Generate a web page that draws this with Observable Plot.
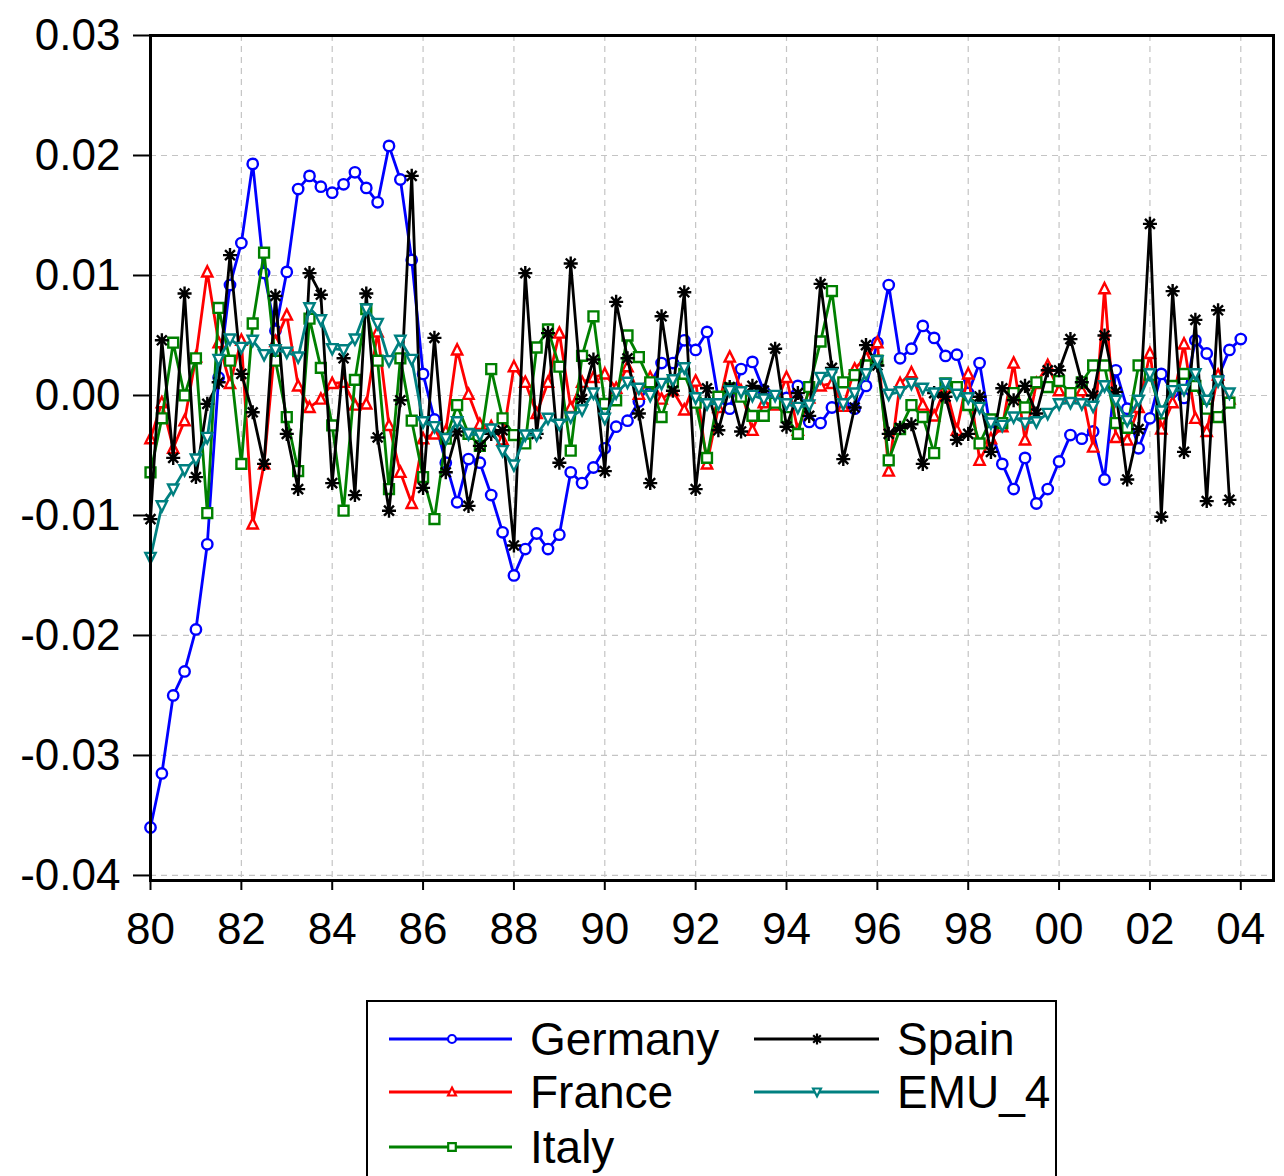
<!DOCTYPE html>
<html><head><meta charset="utf-8">
<script src="https://cdn.jsdelivr.net/npm/d3@7"></script>
<script src="https://cdn.jsdelivr.net/npm/@observablehq/plot@0.6"></script>
<style>
body{margin:0;background:#fff;font-family:"Liberation Sans",Arial,sans-serif;}
#chart{position:absolute;left:0;top:0;}
#legend{position:absolute;left:366px;top:1000px;width:687px;height:200px;border:2px solid #000;background:#fff;}
</style></head><body><div id="chart"></div><div id="legend"></div>
<script>
const startYear = 1980; // first quarter 1980Q1, quarterly observations
const germany = [-0.036,-0.0315,-0.025,-0.023,-0.0195,-0.0124,0.0015,0.0092,0.0127,0.0193,0.0102,0.0054,0.0103,0.0172,0.0183,0.0174,0.0169,0.0176,0.0186,0.0173,0.0161,0.0208,0.018,0.0113,0.0018,-0.002,-0.0056,-0.0089,-0.0053,-0.0056,-0.0083,-0.0114,-0.015,-0.0128,-0.0115,-0.0128,-0.0116,-0.0064,-0.0073,-0.006,-0.0044,-0.0026,-0.0021,-0.0005,0.001,0.0027,0.0027,0.0046,0.0038,0.0053,-0.0003,-0.0011,0.0022,0.0028,0.0004,-0.0004,-0.0002,0.0008,-0.0022,-0.0023,-0.001,-0.0008,-0.0011,0.0008,0.0044,0.0092,0.0031,0.0039,0.0058,0.0048,0.0033,0.0034,0.0002,0.0027,-0.003,-0.0057,-0.0078,-0.0052,-0.009,-0.0078,-0.0055,-0.0033,-0.0036,-0.003,-0.007,0.0021,-0.0011,-0.0044,-0.0019,0.0018,0.0003,-0.0002,0.0046,0.0035,0.0015,0.0038,0.0047];
const france = [-0.0036,-0.0006,-0.0044,-0.0021,0.0032,0.0103,0.0044,0.001,0.0046,-0.0107,-0.0057,0.0045,0.0067,0.0008,-0.001,-0.0003,0.001,0.0011,-0.0008,-0.0007,0.0053,-0.0025,-0.0064,-0.009,-0.0036,-0.0032,-0.003,0.0038,0.0001,-0.0024,-0.0026,-0.0037,0.0024,0.0011,-0.0015,0.0011,0.0052,-0.001,0.0011,0.0015,0.0018,0.0006,0.0024,0.0001,0.0015,-0.0003,0.0004,-0.0012,0.0012,-0.0057,-0.001,0.0032,0.0004,-0.0029,-0.0006,-0.0008,0.0015,-0.0029,-0.0002,0.0008,0.001,-0.0009,0.0022,0.0032,0.0044,-0.0063,0.001,0.0019,-0.0008,-0.0017,0.0007,-0.0029,0.0018,-0.0054,-0.0036,-0.0026,0.0027,-0.0037,0.001,0.0025,0.0004,-0.0002,0.0004,-0.0043,0.0089,-0.0035,-0.0037,-0.001,0.0035,-0.0028,-0.0006,0.0043,-0.0019,-0.003,0.0017,-0.0003];
const italy = [-0.0064,-0.0019,0.0044,0.0,0.0031,-0.0098,0.0073,0.0029,-0.0057,0.006,0.0119,0.0029,-0.0018,-0.0063,0.0064,0.0023,-0.0025,-0.0096,0.0013,0.0072,0.0029,-0.0078,0.0031,-0.0021,-0.0068,-0.0103,-0.0036,-0.0008,-0.0032,-0.0042,0.0022,-0.0019,-0.0033,-0.004,0.004,0.0055,0.0024,-0.0046,0.0033,0.0066,-0.0007,-0.0004,0.005,0.0032,0.0011,-0.0018,0.0011,0.0018,-0.0006,-0.0052,-0.0001,0.0006,-0.0001,-0.0017,-0.0017,-0.0006,-0.0018,-0.0032,0.0007,0.0045,0.0087,0.0011,0.0017,0.0025,0.0029,-0.0054,-0.0028,-0.0008,-0.0018,-0.0048,0.001,0.0007,-0.0008,-0.004,-0.002,-0.0023,0.0002,-0.001,0.0011,0.0007,0.0012,0.0002,0.0011,0.0025,0.0025,-0.0023,-0.0027,0.0025,0.0017,-0.0015,0.0008,0.0018,0.0008,-0.0011,-0.0018,-0.0006];
const spain = [-0.0103,0.0046,-0.0052,0.0085,-0.0068,-0.0007,0.0011,0.0117,0.0018,-0.0014,-0.0057,0.0083,-0.0032,-0.0078,0.0102,0.0084,-0.0073,0.0031,-0.0083,0.0085,-0.0035,-0.0096,-0.0004,0.0183,-0.0077,0.0048,-0.0064,-0.003,-0.0092,-0.0042,-0.0032,-0.0029,-0.0125,0.0102,-0.0032,0.0052,-0.0056,0.011,-0.0003,0.003,-0.0063,0.0078,0.0031,-0.0015,-0.0073,0.0066,0.0004,0.0086,-0.0078,0.0006,-0.0029,0.0007,-0.003,0.0008,0.0004,0.0039,-0.0026,0.0002,-0.0017,0.0093,0.0023,-0.0053,-0.001,0.0042,0.0025,-0.0032,-0.0027,-0.0024,-0.0057,0.0002,-0.0001,-0.0037,-0.0032,-0.0001,-0.0047,0.0006,-0.0004,0.0008,-0.0015,0.0021,0.0021,0.0047,0.0011,0.0,0.005,0.0003,-0.007,-0.0028,0.0143,-0.0101,0.0087,-0.0047,0.0063,-0.0088,0.0071,-0.0087];
const emu4 = [-0.0135,-0.0092,-0.0078,-0.0062,-0.0053,-0.0035,0.003,0.0047,0.004,0.0046,0.0034,0.0038,0.0036,0.0032,0.0073,0.0063,0.0039,0.0038,0.0047,0.0072,0.006,0.0029,0.0046,0.003,-0.0022,-0.0026,-0.0036,-0.0022,-0.0032,-0.0033,-0.0028,-0.0046,-0.0058,-0.0033,-0.0033,-0.0019,-0.0024,-0.0018,-0.0012,0.0002,-0.0019,0.0002,0.0011,0.0006,0.0,0.001,0.0013,0.0023,-0.0002,-0.0007,-0.0007,0.0004,0.0003,0.0,-0.0003,0.0,-0.0007,-0.001,-0.0008,0.0015,0.0018,-0.0007,0.0002,0.0018,0.0029,0.0001,0.0003,0.001,0.0006,0.0002,0.001,0.0001,-0.0002,-0.001,-0.0023,-0.0025,-0.0018,-0.0023,-0.0022,-0.0015,-0.0007,-0.0006,-0.0007,-0.0009,0.0008,-0.0004,-0.0021,-0.0004,0.0018,-0.0013,0.0004,0.0005,0.0018,-0.0004,0.0012,0.0002];
const seriesNames = ["Germany","France","Italy","Spain","EMU_4"];
const seriesColors = ["#0000ff","#ff0000","#008000","#000000","#008080"];
const seriesMarkers = ["circle","triangle","square","asterisk","triangleDown"];
const xTicks = [1980,1982,1984,1986,1988,1990,1992,1994,1996,1998,2000,2002,2004];
const xTickLabels = ["80","82","84","86","88","90","92","94","96","98","00","02","04"];
const yTicks = [-0.04,-0.03,-0.02,-0.01,0,0.01,0.02,0.03];
const yTickLabels = ["-0.04","-0.03","-0.02","-0.01","0.00","0.01","0.02","0.03"];

const seriesValues = [germany, france, italy, spain, emu4];

// custom symbol shapes
const rad = s => Math.sqrt(s / Math.PI);
const symbols = {
  circle: d3.symbolCircle,
  square: {draw(c, s){ const r = rad(s)*0.95; c.moveTo(-r,-r); c.lineTo(r,-r); c.lineTo(r,r); c.lineTo(-r,r); c.closePath(); }},
  triangle: {draw(c, s){ const r = rad(s)*1.1; c.moveTo(0,-r); c.lineTo(r*0.9,r*0.8); c.lineTo(-r*0.9,r*0.8); c.closePath(); }},
  triangleDown: {draw(c, s){ const r = rad(s)*1.1; c.moveTo(0,r); c.lineTo(r*0.9,-r*0.8); c.lineTo(-r*0.9,-r*0.8); c.closePath(); }},
  asterisk: {draw(c, s){ const r = rad(s)*1.35; for (let k=0;k<4;k++){ const a = k*Math.PI/4; c.moveTo(-r*Math.cos(a),-r*Math.sin(a)); c.lineTo(r*Math.cos(a), r*Math.sin(a)); } }}
};

const marks = [
  Plot.gridX(xTicks, {stroke:"#c4c4c4", strokeOpacity:1, strokeDasharray:"6,5", strokeWidth:1.2}),
  Plot.gridY(yTicks, {stroke:"#c4c4c4", strokeOpacity:1, strokeDasharray:"6,5", strokeWidth:1.2})
];
seriesValues.forEach((vals, k) => {
  const rows = vals.map((v, i) => ({t: startYear + i / 4, v}));
  marks.push(Plot.line(rows, {x:"t", y:"v", stroke: seriesColors[k], strokeWidth: 2.8}));
  marks.push(Plot.dot(rows, {x:"t", y:"v", symbol: symbols[seriesMarkers[k]], r: 5.2,
    stroke: seriesColors[k], strokeWidth: 2.4, fill: seriesMarkers[k] === "asterisk" ? "none" : "white"}));
});
marks.push(Plot.axisX(xTicks, {label: null, tickSize: 10, tickPadding: 22, fontSize: 44, tickFormat: (d) => xTickLabels[xTicks.indexOf(d)], strokeWidth: 2}));
marks.push(Plot.axisY(yTicks, {label: null, tickSize: 17, tickPadding: 13, fontSize: 44, tickFormat: (d) => yTickLabels[yTicks.indexOf(d)], strokeWidth: 2}));
marks.push(Plot.frame({stroke:"#000", strokeWidth: 3}));

const chart = Plot.plot({
  width: 1284, height: 960,
  marginLeft: 150, marginRight: 11, marginTop: 35, marginBottom: 80,
  style: {fontFamily: '"Liberation Sans", Arial, sans-serif', color: "#000", background: "#fff"},
  x: {domain: [1980, 2004.72], label: null},
  y: {domain: [-0.04042, 0.03], label: null},
  marks
});
document.getElementById("chart").append(chart);

// legend
const lg = d3.select("#legend").append("svg").attr("width", 687).attr("height", 200);
const pos = [[0,37],[0,90],[0,145],[1,37],[1,90]];
const colX = [[21,144,84,162],[386,511,449,529]];
seriesNames.forEach((name, k) => {
  const [c, y] = pos[k];
  const [x1, x2, xm, xt] = colX[c];
  lg.append("line").attr("x1", x1).attr("x2", x2).attr("y1", y).attr("y2", y)
    .attr("stroke", seriesColors[k]).attr("stroke-width", 2.8);
  lg.append("path").attr("transform", `translate(${xm},${y})`)
    .attr("d", d3.symbol(symbols[seriesMarkers[k]], Math.PI * 4 * 4)())
    .attr("stroke", seriesColors[k]).attr("stroke-width", 2.2)
    .attr("fill", seriesMarkers[k] === "asterisk" ? "none" : "white");
  lg.append("text").attr("x", xt).attr("y", y + 16).attr("font-size", 46)
    .attr("font-family", '"Liberation Sans", Arial, sans-serif').text(name);
});
</script></body></html>
